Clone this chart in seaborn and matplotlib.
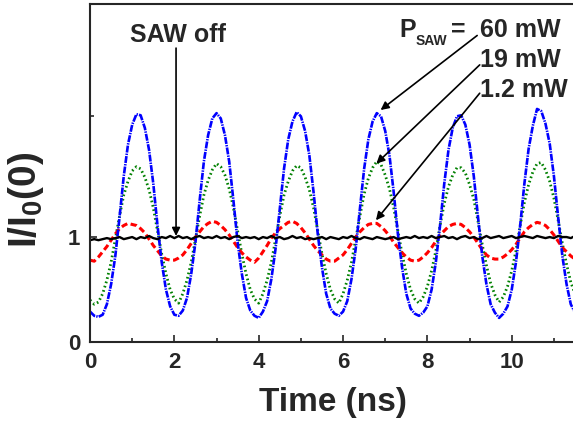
import numpy as np
import pandas as pd
import matplotlib
matplotlib.use("Agg")
import matplotlib.pyplot as plt
import seaborn as sns

# Values, one sample every 0.1 ns from 0 to 11.5 ns
blue_60mw = [
    0.29, 0.25, 0.24, 0.26, 0.36, 0.55, 0.82, 1.19, 1.58, 1.88,
    2.07, 2.17, 2.16, 2.04, 1.83, 1.51, 1.11, 0.76, 0.50, 0.34,
    0.26, 0.25, 0.30, 0.42, 0.65, 0.95, 1.35, 1.72, 1.97, 2.13,
    2.18, 2.13, 1.97, 1.72, 1.35, 0.95, 0.65, 0.42, 0.30, 0.25,
    0.23, 0.29, 0.39, 0.60, 0.89, 1.27, 1.65, 1.93, 2.10, 2.19,
    2.15, 2.01, 1.78, 1.43, 1.03, 0.71, 0.46, 0.32, 0.27, 0.25,
    0.29, 0.39, 0.60, 0.89, 1.27, 1.65, 1.93, 2.10, 2.18, 2.15,
    2.01, 1.78, 1.43, 1.03, 0.71, 0.46, 0.32, 0.27, 0.25, 0.28,
    0.34, 0.50, 0.76, 1.11, 1.51, 1.83, 2.04, 2.15, 2.16, 2.07,
    1.88, 1.58, 1.19, 0.82, 0.55, 0.36, 0.28, 0.23, 0.27, 0.34,
    0.50, 0.76, 1.11, 1.51, 1.84, 2.06, 2.22, 2.20, 2.08, 1.89,
    1.58, 1.19, 0.82, 0.55, 0.36, 0.28,
]
green_19mw = [
    0.40, 0.36, 0.38, 0.46, 0.59, 0.76, 0.98, 1.20, 1.40, 1.53,
    1.63, 1.67, 1.65, 1.57, 1.45, 1.28, 1.06, 0.84, 0.65, 0.50,
    0.41, 0.37, 0.46, 0.59, 0.76, 0.98, 1.20, 1.40, 1.54, 1.64,
    1.70, 1.67, 1.59, 1.46, 1.28, 1.06, 0.84, 0.65, 0.50, 0.41,
    0.37, 0.46, 0.59, 0.76, 0.98, 1.20, 1.40, 1.53, 1.63, 1.68,
    1.66, 1.57, 1.45, 1.28, 1.06, 0.84, 0.65, 0.50, 0.41, 0.37,
    0.46, 0.59, 0.76, 0.98, 1.20, 1.41, 1.56, 1.66, 1.72, 1.69,
    1.59, 1.46, 1.28, 1.06, 0.84, 0.65, 0.50, 0.41, 0.37, 0.43,
    0.53, 0.68, 0.87, 1.11, 1.32, 1.48, 1.59, 1.66, 1.66, 1.61,
    1.50, 1.36, 1.15, 0.93, 0.73, 0.56, 0.45, 0.38, 0.43, 0.53,
    0.68, 0.87, 1.11, 1.33, 1.50, 1.62, 1.70, 1.71, 1.64, 1.53,
    1.37, 1.16, 0.94, 0.74, 0.57, 0.46,
]
red_1p2mw = [
    0.78, 0.77, 0.81, 0.86, 0.91, 0.97, 1.03, 1.08, 1.11, 1.13,
    1.12, 1.11, 1.08, 1.04, 0.98, 0.92, 0.87, 0.82, 0.79, 0.78,
    0.78, 0.80, 0.83, 0.88, 0.94, 1.00, 1.05, 1.10, 1.13, 1.15,
    1.14, 1.11, 1.07, 1.02, 0.96, 0.90, 0.85, 0.81, 0.78, 0.76,
    0.80, 0.86, 0.92, 0.99, 1.04, 1.08, 1.11, 1.14, 1.15, 1.13,
    1.09, 1.04, 0.98, 0.92, 0.87, 0.83, 0.79, 0.77, 0.77, 0.80,
    0.83, 0.88, 0.94, 1.00, 1.05, 1.09, 1.12, 1.13, 1.13, 1.10,
    1.06, 1.01, 0.95, 0.90, 0.85, 0.81, 0.78, 0.77, 0.78, 0.81,
    0.85, 0.90, 0.96, 1.02, 1.06, 1.10, 1.12, 1.13, 1.12, 1.09,
    1.05, 1.00, 0.94, 0.88, 0.83, 0.80, 0.79, 0.79, 0.81, 0.84,
    0.88, 0.93, 0.99, 1.05, 1.09, 1.12, 1.14, 1.13, 1.11, 1.07,
    1.02, 0.96, 0.90, 0.86, 0.82, 0.79,
]
black_off = [
    0.97, 0.98, 0.97, 0.98, 0.99, 0.98, 0.99, 1.00, 0.98, 0.99,
    1.00, 0.98, 1.00, 0.99, 1.01, 0.99, 0.98, 1.00, 0.99, 1.01,
    0.99, 1.01, 0.99, 1.00, 0.98, 1.00, 1.01, 0.99, 1.00, 0.99,
    1.01, 0.99, 1.00, 0.98, 1.00, 1.01, 0.99, 1.00, 0.99, 1.00,
    0.98, 1.00, 0.99, 1.01, 0.99, 1.00, 0.98, 0.99, 1.01, 0.99,
    1.00, 0.98, 0.99, 0.98, 0.99, 1.00, 0.98, 1.00, 0.99, 0.98,
    1.00, 0.99, 1.01, 0.99, 0.98, 1.00, 0.99, 0.98, 1.00, 0.99,
    0.98, 0.99, 1.00, 0.98, 0.99, 1.00, 0.99, 1.01, 0.99, 1.00,
    0.99, 1.01, 0.99, 1.00, 1.01, 0.99, 1.00, 0.98, 1.00, 1.01,
    0.99, 1.00, 0.98, 0.99, 1.01, 0.99, 1.00, 1.01, 0.99, 1.00,
    1.01, 0.99, 1.00, 1.01, 1.00, 0.99, 1.01, 1.00, 0.99, 1.00,
    0.99, 1.01, 1.00, 1.00, 0.99, 1.01,
]
time_ns = np.round(np.arange(len(blue_60mw)) * 0.1, 1)

x_major = [0, 2, 4, 6, 8, 10]
x_minor = [1, 3, 5, 7, 9, 11]
y_major = [0, 1]
y_minor = [2.15]
power_labels = ["60 mW", "19 mW", "1.2 mW"]

df = pd.DataFrame({
    "time": time_ns,
    "p60": blue_60mw,
    "p19": green_19mw,
    "p12": red_1p2mw,
    "off": black_off,
})

sns.set_style("ticks")
plt.rcParams["font.family"] = ["Liberation Sans", "DejaVu Sans"]
plt.rcParams["font.weight"] = "bold"
plt.rcParams["mathtext.fontset"] = "custom"
plt.rcParams["mathtext.rm"] = "Liberation Sans:bold"
plt.rcParams["mathtext.bf"] = "Liberation Sans:bold"
plt.rcParams["mathtext.it"] = "Liberation Sans:bold"
plt.rcParams["lines.scale_dashes"] = False

fig = plt.figure(figsize=(5.73, 4.21), dpi=100)
ax = fig.add_axes([0.1571, 0.1876, 0.8464, 0.8029])

sns.lineplot(data=df, x="time", y="p19", color="#008000", lw=2.0,
             linestyle=(0, (1.2, 2.0)), ax=ax)
sns.lineplot(data=df, x="time", y="p12", color="#ff0000", lw=2.2,
             linestyle=(0, (4.5, 2.5)), ax=ax)
sns.lineplot(data=df, x="time", y="p60", color="#0000ff", lw=1.9,
             linestyle=(0, (5, 0.8, 1, 0.8)), ax=ax)
sns.lineplot(data=df, x="time", y="off", color="black", lw=1.7, ax=ax)

ax.set_xlim(0, 11.5)
ax.set_ylim(0, 3.22)
ax.set_xticks(x_major)
ax.set_xticks(x_minor, minor=True)
ax.set_yticks(y_major)
ax.set_yticks(y_minor, minor=True)
ax.tick_params(which="both", direction="in", width=1.2, labelsize=16, pad=7)
ax.tick_params(which="major", length=5)
ax.tick_params(which="minor", length=3)
for lab in ax.get_xticklabels() + ax.get_yticklabels():
    lab.set_fontweight("bold")
for side in ["left", "bottom", "top"]:
    ax.spines[side].set_linewidth(1.5)
ax.spines["right"].set_visible(False)

ax.set_xlabel("Time (ns)", fontsize=24, fontweight="bold", labelpad=10)
ax.set_ylabel(r"I/I$_{\mathbf{0}}$(0)", fontsize=28, fontweight="bold")
ax.yaxis.set_label_coords(-0.09, 0.42)

arrow = dict(arrowstyle="-|>", color="black", lw=1.2, mutation_scale=12,
             shrinkA=0, shrinkB=0)
ax.text(2.09, 2.86, "SAW off", fontsize=18, fontweight="bold", ha="center",
        va="baseline")
ax.annotate("", xy=(2.04, 1.01), xytext=(2.04, 2.80), arrowprops=arrow)

# P_SAW= built from pieces so the subscript stays small
ax.text(7.34, 2.91, "P", fontsize=18, fontweight="bold", ha="left",
        va="baseline")
ax.text(7.73, 2.83, "SAW", fontsize=10, fontweight="bold", ha="left",
        va="baseline")
ax.text(8.55, 2.91, "=", fontsize=18, fontweight="bold", ha="left",
        va="baseline")

label_y = [2.91, 2.62, 2.33]
arrow_start = [(9.18, 2.92), (9.24, 2.64), (9.24, 2.37)]
arrow_tip = [(6.89, 2.21), (6.79, 1.70), (6.78, 1.16)]
for lab, ly, st, tip in zip(power_labels, label_y, arrow_start, arrow_tip):
    ax.text(9.25, ly, lab, fontsize=18, fontweight="bold", ha="left",
            va="baseline")
    ax.annotate("", xy=tip, xytext=st, arrowprops=arrow)

fig.savefig("out.png", dpi=100)
